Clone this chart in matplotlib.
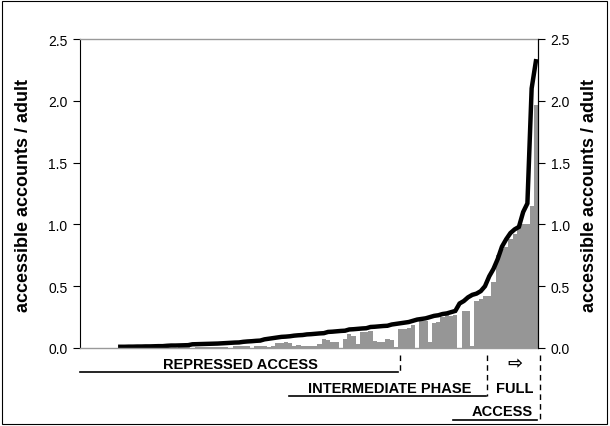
import matplotlib.pyplot as plt
import numpy as np
from matplotlib.lines import Line2D
from matplotlib.patches import Rectangle

plt.rcParams["font.family"] = ["Liberation Sans", "DejaVu Sans"]

# accessible accounts per adult, one value per country (sorted by the line series)
line_vals = [np.nan] * 9 + [
    0.010, 0.010, 0.011, 0.011, 0.012, 0.012, 0.013, 0.013, 0.014, 0.015, 0.015,
    0.018, 0.020, 0.020, 0.021, 0.022, 0.023,
    0.030, 0.031, 0.032, 0.033, 0.034, 0.035, 0.036, 0.038, 0.040, 0.042, 0.044, 0.045,
    0.050, 0.053, 0.055, 0.058, 0.060,
    0.070, 0.075, 0.080, 0.085, 0.090,
    0.092, 0.095, 0.100, 0.103, 0.105,
    0.110, 0.112, 0.115, 0.118, 0.120,
    0.130, 0.132, 0.135, 0.138, 0.140,
    0.150, 0.152, 0.155, 0.158, 0.160,
    0.170, 0.172, 0.175, 0.178, 0.180,
    0.190, 0.195, 0.200, 0.205, 0.210,
    0.220, 0.230, 0.235, 0.240, 0.250,
    0.260, 0.265, 0.275, 0.280, 0.290,
    0.300, 0.360, 0.380, 0.410, 0.430, 0.440, 0.460, 0.500, 0.580, 0.640,
    0.720, 0.820, 0.880, 0.930, 0.960, 0.980, 1.100, 1.170, 2.100, 2.320,
]
bar_vals = [
    0, 0, 0, 0, 0, 0, 0, 0, 0,
    0, 0.003, 0, 0.004, 0.003, 0, 0.005, 0.004,
    0.005, 0, 0.006, 0.005, 0.004, 0, 0.006,
    0.007, 0.006, 0, 0.008, 0.007,
    0.010, 0.012, 0.010, 0.011, 0.008,
    0.010, 0, 0.015, 0.016, 0.014,
    0.015, 0, 0.018, 0.016, 0.020,
    0.010, 0.020, 0.040, 0.042, 0.045,
    0.040, 0.020, 0.022, 0.018, 0.020,
    0.020, 0.015, 0.030, 0.070, 0.068,
    0.050, 0.050, 0, 0.070, 0.110,
    0.100, 0.030, 0.130, 0.130, 0.140,
    0.060, 0.050, 0.050, 0.070, 0.065,
    0.010, 0.150, 0.155, 0.160, 0.190,
    0, 0.220, 0.220, 0.050, 0.200,
    0.210, 0.250, 0.270, 0.260, 0.270,
    0, 0.300, 0.300, 0.020, 0.380, 0.400, 0.420, 0.420, 0.530, 0.750,
    0.800, 0.820, 0.880, 0.920, 0.980, 1.000, 1.000, 1.150, 1.970,
]
yticks = [0.0, 0.5, 1.0, 1.5, 2.0, 2.5]
ylabel = "accessible accounts / adult"

W, H = 610, 427
fig = plt.figure(figsize=(W / 100, H / 100), dpi=100)
ax = fig.add_axes([80 / W, 1 - 349 / H, 458 / W, 309 / H])

n = len(bar_vals)
x = np.arange(n)
ax.bar(x, bar_vals, width=1.0, color="#969696", linewidth=0)
ax.plot(x, line_vals, color="black", lw=3.2, solid_joinstyle="miter")

ax.set_xlim(-0.5, n - 0.5)
ax.set_ylim(0, 2.5)
ax.set_xticks([])
ax.set_yticks(yticks)
ax.set_yticklabels([f"{t:.1f}" for t in yticks])
ax.tick_params(axis="y", direction="out", length=5, labelsize=10, pad=4)
for s in ("top", "bottom"):
    ax.spines[s].set_color("#999999")
    ax.spines[s].set_linewidth(1)
for s in ("left", "right"):
    ax.spines[s].set_color("black")

ax2 = ax.twinx()
ax2.set_ylim(0, 2.5)
ax2.set_yticks(yticks)
ax2.set_yticklabels([f"{t:.1f}" for t in yticks])
ax2.tick_params(axis="y", direction="out", length=5, labelsize=10, pad=4)
for s in ("top", "bottom", "left"):
    ax2.spines[s].set_visible(False)
ax2.spines["right"].set_color("black")


def fx(px):
    return px / W


def fy(py):
    return 1 - py / H


lkw = dict(fontsize=13, fontweight="bold", rotation=90, ha="center", va="center")
fig.text(fx(24), fy(196), ylabel, **lkw)
fig.text(fx(589), fy(196), ylabel, **lkw)

tkw = dict(fontsize=10.5, fontweight="bold", ha="center", va="center")
fig.text(fx(240), fy(365), "REPRESSED ACCESS", **tkw)
fig.text(fx(390), fy(389), "INTERMEDIATE PHASE", **tkw)
fig.text(fx(515), fy(389), "FULL", **tkw)
fig.text(fx(502), fy(412), "ACCESS", **tkw)
fig.text(fx(515), fy(364), "\u21e8", fontsize=13, fontweight="bold",
         ha="center", va="center", family="DejaVu Sans")

for x0, x1, yy in [(80, 398, 373), (289, 486, 397), (453, 537, 421)]:
    fig.add_artist(Line2D([fx(x0), fx(x1)], [fy(yy), fy(yy)], color="black", lw=1.2))
for xx, y1 in [(400, 373), (487, 397), (540, 423)]:
    fig.add_artist(Line2D([fx(xx), fx(xx)], [fy(356), fy(y1)], color="black",
                          lw=1, ls=(0, (4, 3))))

fig.add_artist(Rectangle((fx(2), fy(425)), fx(605), 1 - fy(423), transform=fig.transFigure,
                         fill=False, edgecolor="black", lw=0.8))

fig.savefig("out.png", dpi=100)
